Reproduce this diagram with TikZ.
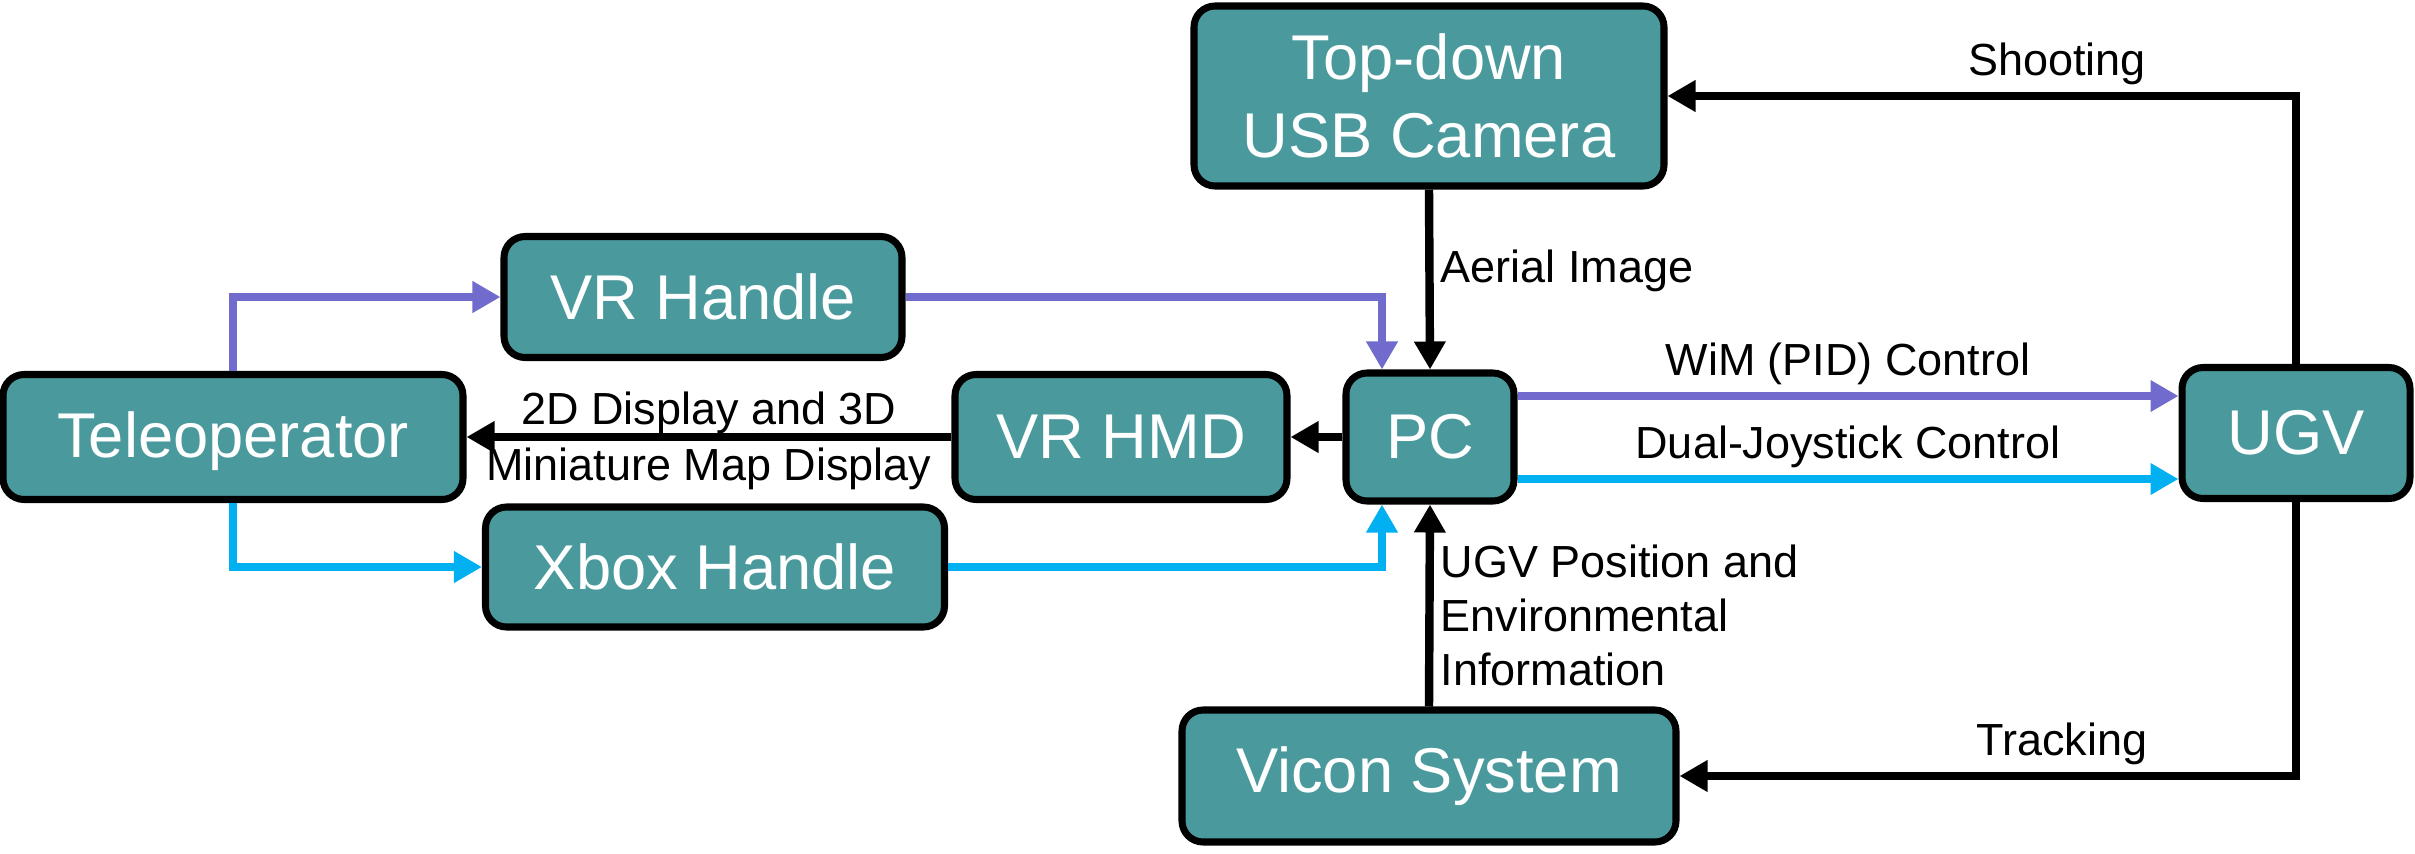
\documentclass[tikz,border=0pt]{standalone}
\usepackage{fontspec}
\setmainfont{Liberation Sans}
\usepackage{xcolor}
\definecolor{petroleo}{RGB}{74,154,157}
\definecolor{roxo}{RGB}{112,107,205}
\definecolor{ciano}{RGB}{0,176,240}
\usepackage{tikz}
\usetikzlibrary{arrows.meta,positioning,calc}

\begin{document}
\begin{tikzpicture}[
            bloco/.style={draw=black,fill=petroleo,line width=2pt,rounded corners=6pt,
              font=\fontsize{18}{22}\selectfont,text=white,align=center,inner sep=0pt},
            seta/.style={-{Triangle[length=0.28cm,width=0.3cm]},line width=2.4pt,black},
            rotulo/.style={font=\fontsize{12.8}{15.4}\selectfont,text=black,inner sep=2pt}
            ]
            \useasboundingbox (0,0) rectangle (24.15,8.53);
            \node[bloco,minimum width=4.6cm,minimum height=1.25cm,
              text depth=0.05cm]                                    (tele) at (2.33,4.16) {Teleoperator};
            \node[bloco,minimum width=3.98cm,minimum height=1.21cm] (vrh)  at (7.03,5.56) {VR Handle};
            \node[bloco,minimum width=4.59cm,minimum height=1.2cm]  (xbox) at (7.15,2.86) {Xbox Handle};
            \node[bloco,minimum width=3.32cm,minimum height=1.25cm] (hmd)  at (11.21,4.16) {VR HMD};
            \node[bloco,minimum width=1.68cm,minimum height=1.28cm] (pc)   at (14.30,4.16) {PC};
            \node[bloco,minimum width=2.28cm,minimum height=1.31cm] (ugv)  at (22.96,4.20) {UGV};
            \node[bloco,minimum width=4.70cm,minimum height=1.80cm] (cam)  at (14.29,7.57) {Top-down\\USB Camera};
            \node[bloco,minimum width=4.94cm,minimum height=1.32cm] (vicon) at (14.29,0.77) {Vicon System};

            \coordinate (pcN) at ([xshift=-0.48cm]pc.north);
            \coordinate (pcS) at ([xshift=-0.48cm]pc.south);

            \draw[seta,roxo]  (tele.north) |- (vrh.west);
            \draw[seta,ciano] (tele.south) |- (xbox.west);
            \draw[seta,roxo]  (vrh.east) -| (pcN);
            \draw[seta,ciano] (xbox.east) -| (pcS);
            \draw[seta] (cam.south) -- node[rotulo,pos=0.45,right] {Aerial Image} (pc.north);
            \draw[seta] (vicon.north) -- node[rotulo,pos=0.45,right,align=left]
              {UGV Position and\\Environmental\\Information} (pc.south);
            \draw[seta] (pc.west) -- (hmd.east);
            \draw[seta] (hmd.west) -- node[rotulo,above,yshift=-0.08cm] {2D Display and 3D}
              node[rotulo,below] {Miniature Map Display} (tele.east);
            \draw[seta,roxo]  ([yshift=0.41cm]pc.east) -- node[rotulo,above] {WiM (PID) Control}
              ([yshift=0.41cm]pc.east -| ugv.west);
            \draw[seta,ciano] ([yshift=-0.42cm]pc.east) -- node[rotulo,above] {Dual-Joystick Control}
              ([yshift=-0.42cm]pc.east -| ugv.west);
            \draw[seta] (ugv.north) |- node[rotulo,pos=0.69,above] {Shooting} (cam.east);
            \draw[seta] (ugv.south) |- node[rotulo,pos=0.69,above] {Tracking} (vicon.east);
          \end{tikzpicture}
\end{document}
